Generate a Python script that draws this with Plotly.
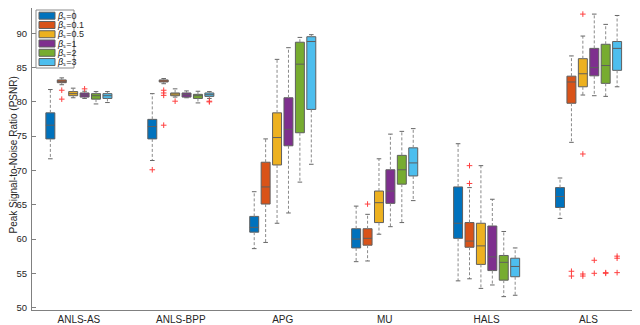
import plotly.graph_objects as go

# groups on the x axis and the beta_s values (one box per beta in each group)
groups = ["ANLS-AS", "ANLS-BPP", "APG", "MU", "HALS", "ALS"]
betas = ["0", "0.1", "0.5", "1", "2", "3"]
colors = ["#0072BD", "#D95319", "#EDB120", "#7E2F8E", "#77AC30", "#4DBEEE"]

# box summaries per beta, one value per group (lower whisker, q1, median, q3, upper whisker)
lower = {
    "0":   [71.7, 71.45, 58.6, 56.7, 53.9, 63.0],
    "0.1": [82.5, 82.65, 59.5, 56.8, 54.2, 74.1],
    "0.5": [80.6, 80.7, 62.3, 60.7, 52.8, 81.0],
    "1":   [80.5, 80.6, 63.8, 61.8, 53.3, 80.9],
    "2":   [79.7, 79.85, 68.3, 62.4, 51.6, 80.8],
    "3":   [79.9, 80.5, 70.9, 65.6, 51.8, 82.2],
}
q1 = {
    "0":   [74.6, 74.6, 61.0, 58.7, 60.1, 64.6],
    "0.1": [82.8, 82.9, 65.1, 59.1, 58.8, 79.8],
    "0.5": [80.9, 80.9, 70.8, 62.4, 56.3, 82.2],
    "1":   [80.7, 80.7, 73.6, 65.2, 55.4, 83.8],
    "2":   [80.4, 80.5, 75.5, 68.0, 54.0, 82.7],
    "3":   [80.5, 80.8, 78.9, 69.2, 54.5, 84.6],
}
median = {
    "0":   [76.6, 76.4, 61.7, 60.0, 62.3, 66.2],
    "0.1": [83.0, 83.05, 67.6, 60.1, 59.7, 82.9],
    "0.5": [81.2, 81.15, 74.8, 65.3, 59.0, 84.1],
    "1":   [81.0, 81.05, 76.0, 67.0, 57.4, 85.0],
    "2":   [80.9, 80.9, 85.5, 70.1, 56.6, 85.3],
    "3":   [80.9, 81.05, 88.8, 71.1, 56.0, 87.8],
}
q3 = {
    "0":   [78.4, 77.45, 63.3, 61.5, 67.6, 67.5],
    "0.1": [83.2, 83.2, 71.2, 61.5, 62.4, 83.75],
    "0.5": [81.5, 81.3, 78.4, 67.0, 62.3, 86.3],
    "1":   [81.3, 81.3, 80.6, 70.1, 61.9, 87.8],
    "2":   [81.2, 81.1, 88.7, 72.2, 57.6, 88.4],
    "3":   [81.2, 81.3, 89.5, 73.3, 57.2, 88.8],
}
upper = {
    "0":   [81.8, 81.2, 66.9, 64.8, 73.9, 68.9],
    "0.1": [83.5, 83.4, 74.6, 63.6, 67.5, 86.7],
    "0.5": [82.0, 81.9, 86.2, 71.7, 70.7, 89.6],
    "1":   [81.55, 81.6, 87.9, 75.3, 65.8, 92.8],
    "2":   [81.5, 81.55, 89.4, 75.7, 61.1, 91.3],
    "3":   [81.5, 81.5, 89.8, 76.1, 58.7, 92.6],
}

# outliers: (group index, value)
outliers = {
    "0":   [(1, 70.1)],
    "0.1": [(0, 81.7), (0, 80.4), (1, 81.7), (1, 81.3), (1, 80.95), (1, 76.6),
            (3, 65.1), (4, 70.7), (4, 68.1), (5, 55.3), (5, 54.6)],
    "0.5": [(1, 80.1), (5, 92.8), (5, 72.4), (5, 54.9), (5, 54.6)],
    "1":   [(0, 81.9), (5, 56.9), (5, 55.0)],
    "2":   [(5, 55.0), (5, 55.1)],
    "3":   [(1, 80.1), (1, 80.0), (5, 57.5), (5, 57.2), (5, 55.1)],
}

pitch = 0.112
box_w = 0.088
cap_w = 0.045

# the page body has an 8px margin, so the figure is sized to fit the window
L, R, T, B = 24, 2, 0, 15
W, H = 632, 317


def px2paper(x, y):
    return (x - L) / (W - L - R), 1 - (y - T) / (H - T - B)


fig = go.Figure()

for j, b in enumerate(betas):
    xs = [g + 1 + (j - 2.5) * pitch for g in range(len(groups))]

    # dashed whiskers
    wx, wy = [], []
    for i, x in enumerate(xs):
        wx += [x, x, None, x, x, None]
        wy += [q3[b][i], upper[b][i], None, q1[b][i], lower[b][i], None]
    fig.add_trace(go.Scatter(x=wx, y=wy, mode="lines", showlegend=False, hoverinfo="skip",
                             line=dict(color="#8a8a8a", width=1, dash="3px,2px")))

    # whisker caps
    cx, cy = [], []
    for i, x in enumerate(xs):
        for v in (upper[b][i], lower[b][i]):
            cx += [x - cap_w / 2, x + cap_w / 2, None]
            cy += [v, v, None]
    fig.add_trace(go.Scatter(x=cx, y=cy, mode="lines", showlegend=False, hoverinfo="skip",
                             line=dict(color="#666666", width=1)))

    fig.add_trace(go.Box(
        x=xs, q1=q1[b], median=median[b], q3=q3[b],
        lowerfence=q1[b], upperfence=q3[b],
        name=f"β_s={b}", width=box_w, whiskerwidth=0,
        fillcolor=colors[j], line=dict(color="#5f5f5f", width=1),
        showlegend=False,
    ))

    if outliers[b]:
        fig.add_trace(go.Scatter(
            x=[xs[g] for g, _ in outliers[b]], y=[v for _, v in outliers[b]],
            mode="markers", showlegend=False, hoverinfo="skip",
            marker=dict(symbol="cross-thin", size=4, line=dict(color="#ff4040", width=1)),
        ))

# legend drawn by hand so the rows stay as compact as the original
x0, y0 = px2paper(28, 2)
x1, y1 = px2paper(66, 60)
fig.add_shape(type="rect", xref="paper", yref="paper", x0=x0, y0=y0, x1=x1, y1=y1,
              line=dict(color="#8a8a8a", width=1), fillcolor="white", layer="above")
for j, b in enumerate(betas):
    yc = 7.7 + j * 9.27
    sx0, sy0 = px2paper(31, yc - 3.5)
    sx1, sy1 = px2paper(47, yc + 3.5)
    fig.add_shape(type="rect", xref="paper", yref="paper", x0=sx0, y0=sy0, x1=sx1, y1=sy1,
                  line=dict(color="#5f5f5f", width=1), fillcolor=colors[j], layer="above")
    tx, ty = px2paper(47.5, yc)
    fig.add_annotation(x=tx, y=ty, xref="paper", yref="paper", xanchor="left", yanchor="middle",
                       text=f"<i>β</i>ₛ={b}", showarrow=False, borderpad=0,
                       font=dict(size=9, color="#262626"))

# y axis title as a rotated annotation, so it can sit tight against the left edge
ax_, ay_ = px2paper(5, 147.5)
fig.add_annotation(x=ax_, y=ay_, xref="paper", yref="paper", xanchor="center", yanchor="middle",
                   text="Peak Signal-to-Noise Ratio (PSNR)", textangle=-90, showarrow=False,
                   borderpad=0, font=dict(size=10, color="#262626"))

fig.update_layout(
    width=W, height=H,
    margin=dict(l=L, r=R, t=T, b=B),
    plot_bgcolor="white", paper_bgcolor="white",
    boxmode="overlay",
    font=dict(family="Liberation Sans, Arial, sans-serif", size=10, color="#262626"),
    showlegend=False,
)
fig.update_xaxes(
    range=[0.54, 6.485], tickvals=list(range(1, len(groups) + 1)), ticktext=groups,
    showline=True, mirror=True, linecolor="#808080", linewidth=1,
    ticks="", showgrid=False, zeroline=False, tickfont=dict(size=10),
    automargin=False, ticklabelstandoff=0,
)
fig.update_yaxes(
    range=[49.65, 93.69], tickvals=list(range(50, 95, 5)),
    showline=True, mirror="allticks", linecolor="#808080", linewidth=1,
    ticks="inside", ticklen=4, tickcolor="#808080",
    showgrid=False, zeroline=False, tickfont=dict(size=9.5),
    automargin=False, ticklabelstandoff=2,
)

fig.write_html("out.html")
